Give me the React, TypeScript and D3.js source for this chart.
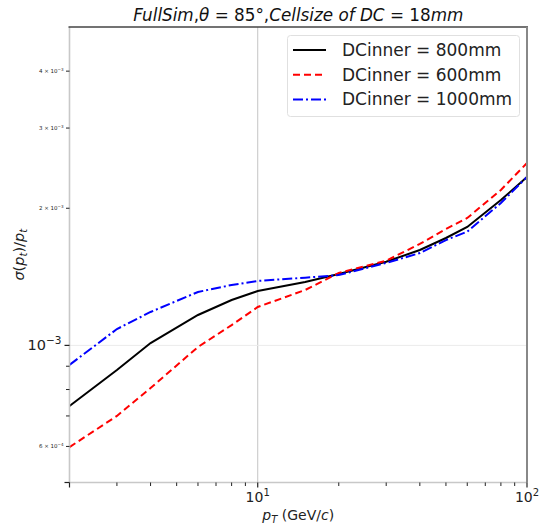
import React from "react";
import * as d3 from "d3";

const ptValues = [2, 3, 4, 6, 8, 10, 15, 20, 30, 40, 50, 60, 80, 100];
const dc800 = [7.36e-4, 8.83e-4, 1.012e-3, 1.166e-3, 1.258e-3, 1.316e-3, 1.378e-3, 1.434e-3, 1.526e-3, 1.62e-3, 1.721e-3, 1.82e-3, 2.085e-3, 2.343e-3];
const dc600 = [5.98e-4, 7.0e-4, 8.06e-4, 9.92e-4, 1.108e-3, 1.214e-3, 1.323e-3, 1.442e-3, 1.534e-3, 1.67e-3, 1.801e-3, 1.904e-3, 2.194e-3, 2.514e-3];
const dc1000 = [9.06e-4, 1.086e-3, 1.184e-3, 1.31e-3, 1.357e-3, 1.385e-3, 1.408e-3, 1.427e-3, 1.517e-3, 1.595e-3, 1.703e-3, 1.777e-3, 2.054e-3, 2.343e-3];

const seriesNames = ["DCinner = 800mm", "DCinner = 600mm", "DCinner = 1000mm"];
const seriesColors = ["#000000", "#ff0000", "#0000ff"];
const seriesDash = ["", "7,4", "10,3,2,3"];

const xMajorTicks = [10, 100];
const xMinorTicks = [2, 3, 4, 5, 6, 7, 8, 9, 20, 30, 40, 50, 60, 70, 80, 90];
const yMinorLabeled = [6e-4, 2e-3, 3e-3, 4e-3];
const yMinorTicks = [6e-4, 7e-4, 8e-4, 9e-4, 2e-3, 3e-3, 4e-3];

const W = 539, H = 527;
const L = 69.5, R = 527, T = 27, B = 482.5;

export default function App() {
  const x = d3.scaleLog().domain([2, 100]).range([L, R]);
  const y = d3.scaleLog().domain([5e-4, 5e-3]).range([B, T]);
  const allSeries = [dc800, dc600, dc1000];
  const line = d3
    .line<[number, number]>()
    .x((d) => x(d[0]))
    .y((d) => y(d[1]));

  const font = "DejaVu Sans, sans-serif";
  const supExp = (v: number) => Math.round(Math.log10(v));

  return (
    <svg width={W} height={H} style={{ position: "absolute", left: 0, top: 0 }} fontFamily={font}>
      <rect x={0} y={0} width={W} height={H} fill="#fff" />
      {xMajorTicks.map((t) => (
        <line key={"gx" + t} x1={x(t)} x2={x(t)} y1={T} y2={B} stroke="#c4c4c4" strokeWidth={1} />
      ))}
      <line x1={L} x2={R} y1={y(1e-3)} y2={y(1e-3)} stroke="#ebebeb" strokeWidth={1} />

      {allSeries.map((s, i) => (
        <path
          key={"s" + i}
          d={line(ptValues.map((p, j) => [p, s[j]] as [number, number])) || ""}
          fill="none"
          stroke={seriesColors[i]}
          strokeWidth={2}
          strokeDasharray={seriesDash[i]}
        />
      ))}

      <line x1={L} x2={L} y1={T} y2={B} stroke="#c8c8c8" strokeWidth={1.6} />
      <line x1={L} x2={R} y1={B} y2={B} stroke="#c8c8c8" strokeWidth={1.6} />
      <line x1={L - 1} x2={R + 1} y1={T} y2={T} stroke="#444" strokeWidth={1.6} />
      <line x1={R} x2={R} y1={T} y2={B} stroke="#888" strokeWidth={2} />

      {[2, ...xMajorTicks].map((t) => (
        <line key={"xt" + t} x1={x(t)} x2={x(t)} y1={B} y2={B + 5} stroke="#222" strokeWidth={1.2} />
      ))}
      {xMinorTicks.filter((t) => t !== 2).map((t) => (
        <line key={"xm" + t} x1={x(t)} x2={x(t)} y1={B} y2={B + 3.5} stroke="#222" strokeWidth={1} />
      ))}
      {xMajorTicks.map((t) => (
        <text key={"xl" + t} x={x(t)} y={B + 19} fontSize={14} textAnchor="middle" fill="#222">
          10<tspan dy={-6} fontSize={10}>{supExp(t)}</tspan>
        </text>
      ))}
      <text x={(L + R) / 2} y={520} fontSize={14} textAnchor="middle" fill="#222">
        <tspan fontStyle="italic">p</tspan>
        <tspan fontStyle="italic" fontSize={10} dy={3}>T</tspan>
        <tspan dy={-3}> (GeV/</tspan>
        <tspan fontStyle="italic">c</tspan>
        <tspan>)</tspan>
      </text>

      <line x1={L - 5} x2={L} y1={y(1e-3)} y2={y(1e-3)} stroke="#222" strokeWidth={1.2} />
      <line x1={L - 5} x2={L} y1={y(5e-4)} y2={y(5e-4)} stroke="#222" strokeWidth={1.2} />
      {yMinorTicks.map((t) => (
        <line key={"ym" + t} x1={L - 3.5} x2={L} y1={y(t)} y2={y(t)} stroke="#222" strokeWidth={1} />
      ))}
      <text x={L - 8} y={y(1e-3) + 5} fontSize={14.5} textAnchor="end" fill="#222">
        10<tspan dy={-6} fontSize={10.5}>−3</tspan>
      </text>
      {yMinorLabeled.map((t) => {
        const e = Math.floor(Math.log10(t) + 1e-9);
        const m = Math.round(t / Math.pow(10, e));
        return (
          <text key={"yl" + t} x={L - 6} y={y(t) + 2} fontSize={5.5} textAnchor="end" fill="#222">
            {m} × 10<tspan dy={-2} fontSize={4}>{"−" + Math.abs(e)}</tspan>
          </text>
        );
      })}
      <text transform={`translate(24, ${(T + B) / 2}) rotate(-90)`} fontSize={14.5} textAnchor="middle" fill="#222">
        <tspan fontStyle="italic">σ</tspan>
        <tspan>(</tspan>
        <tspan fontStyle="italic">p</tspan>
        <tspan fontStyle="italic" fontSize={10} dy={3}>t</tspan>
        <tspan dy={-3}>)/</tspan>
        <tspan fontStyle="italic">p</tspan>
        <tspan fontStyle="italic" fontSize={10} dy={3}>t</tspan>
      </text>

      <text x={(L + R) / 2} y={21} fontSize={16.8} textAnchor="middle" fill="#111">
        <tspan fontStyle="italic">FullSim</tspan>
        <tspan>,</tspan>
        <tspan fontStyle="italic">θ</tspan>
        <tspan> = 85°,</tspan>
        <tspan fontStyle="italic">Cellsize of DC</tspan>
        <tspan> =  18</tspan>
        <tspan fontStyle="italic">mm</tspan>
      </text>

      <rect x={287.5} y={35.5} width={232} height={81} rx={3} fill="#fff" fillOpacity={0.85} stroke="#e0e0e0" strokeWidth={1} />
      {seriesNames.map((n, i) => (
        <g key={"lg" + i}>
          <line x1={293} x2={326} y1={50 + i * 24.7} y2={50 + i * 24.7} stroke={seriesColors[i]} strokeWidth={2} strokeDasharray={seriesDash[i]} />
          <text x={342} y={56 + i * 24.7} fontSize={17} fill="#222">{n}</text>
        </g>
      ))}
    </svg>
  );
}
